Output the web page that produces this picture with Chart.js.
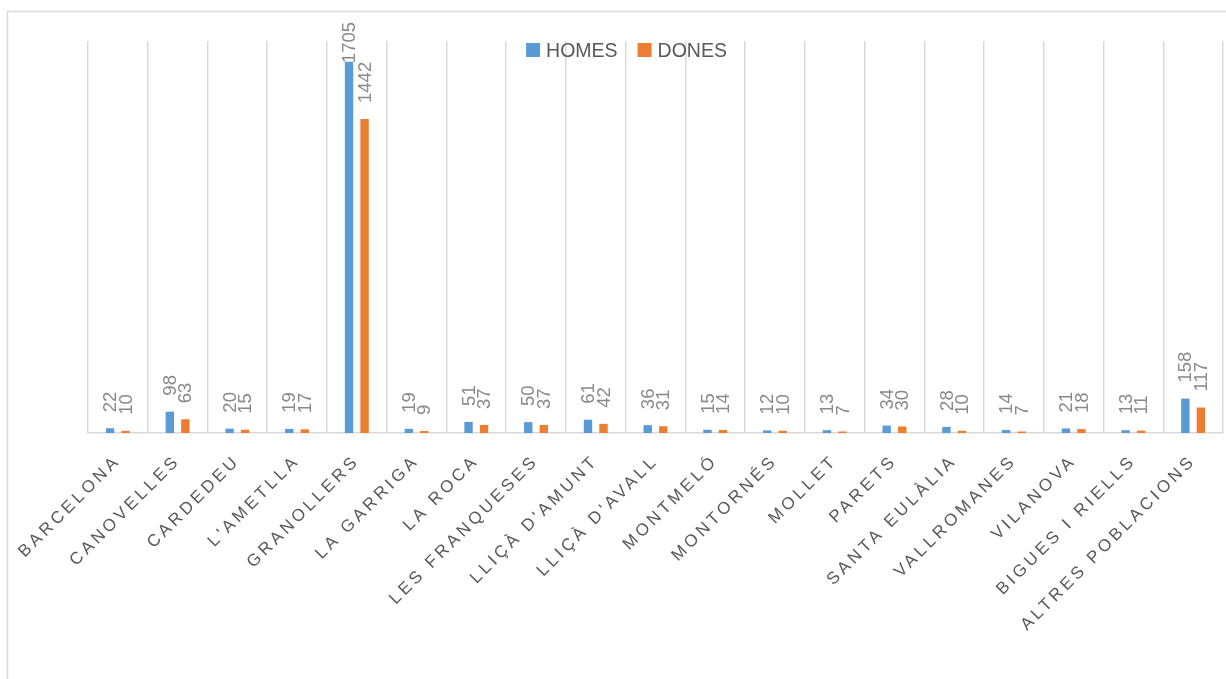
<!DOCTYPE html>
<html>
<head>
<meta charset="utf-8">
<script src="https://cdn.jsdelivr.net/npm/chart.js@4/dist/chart.umd.min.js"></script>
<style>
  body { margin: 0; background: #fff; }
  #wrap { width: 1226px; height: 679px; }
</style>
</head>
<body>
<div id="wrap"><canvas id="chart" width="1226" height="679"></canvas></div>
<script>
// Categories and values
const towns = ['BARCELONA', 'CANOVELLES', 'CARDEDEU', "L'AMETLLA", 'GRANOLLERS', 'LA GARRIGA', 'LA ROCA',
    'LES FRANQUESES', "LLIÇÀ D'AMUNT", "LLIÇÀ D'AVALL", 'MONTMELÓ', 'MONTORNÉS', 'MOLLET', 'PARETS',
    'SANTA EULÀLIA', 'VALLROMANES', 'VILANOVA', 'BIGUES I RIELLS', 'ALTRES POBLACIONS'];
const homes = [22, 98, 20, 19, 1705, 19, 51, 50, 61, 36, 15, 12, 13, 34, 28, 14, 21, 13, 158];
const dones = [10, 63, 15, 17, 1442, 9, 37, 37, 42, 31, 14, 10, 7, 30, 10, 7, 18, 11, 117];

const BLUE = '#5B9BD5';
const ORANGE = '#ED7D31';
const GRID = '#d9d9d9';
const TEXT = '#595959';
const LABEL = '#898989';

// Outer frame + letter spacing for category labels
const framePlugin = {
    id: 'frame',
    beforeDraw(chart) {
        const ctx = chart.ctx;
        ctx.save();
        ctx.strokeStyle = GRID;
        ctx.lineWidth = 1.5;
        ctx.beginPath();
        ctx.moveTo(7.5, 679);
        ctx.lineTo(7.5, 11.5);
        ctx.lineTo(1226, 11.5);
        ctx.stroke();
        ctx.restore();
        ctx.letterSpacing = '3.5px';
    },
    beforeDatasetsDraw(chart) {
        chart.ctx.letterSpacing = '0px';
    }
};

// Rotated value labels above bars
const valueLabels = {
    id: 'valueLabels',
    afterDatasetsDraw(chart) {
        const ctx = chart.ctx;
        ctx.save();
        ctx.letterSpacing = '0px';
        ctx.font = '18.5px "Liberation Sans", Arial, sans-serif';
        ctx.fillStyle = LABEL;
        ctx.textAlign = 'left';
        ctx.textBaseline = 'middle';
        chart.data.datasets.forEach((ds, i) => {
            const meta = chart.getDatasetMeta(i);
            meta.data.forEach((bar, j) => {
                const txt = String(ds.data[j]);
                const w = ctx.measureText(txt).width;
                let start = bar.y - 16;
                if (start - w < 22) start = 22 + w;
                ctx.save();
                ctx.translate(bar.x + 1, start);
                ctx.rotate(-Math.PI / 2);
                ctx.fillText(txt, 0, 0);
                ctx.restore();
            });
        });
        ctx.restore();
    }
};

// Legend drawn inside the plot area, like the original
const insideLegend = {
    id: 'insideLegend',
    afterDraw(chart) {
        const ctx = chart.ctx;
        ctx.save();
        ctx.letterSpacing = '0px';
        ctx.font = '19.5px "Liberation Sans", Arial, sans-serif';
        ctx.textBaseline = 'alphabetic';
        ctx.textAlign = 'left';
        const items = chart.data.datasets.map(ds => ({
            label: ds.label, color: ds.backgroundColor, w: ctx.measureText(ds.label).width
        }));
        const box = 14, gap = 6, between = 20;
        const total = items.reduce((s, it) => s + box + gap + it.w, 0) + between * (items.length - 1);
        let x = 626.5 - total / 2;
        items.forEach(it => {
            ctx.fillStyle = it.color;
            ctx.fillRect(x, 43, box, box);
            ctx.fillStyle = TEXT;
            ctx.fillText(it.label, x + box + gap, 57);
            x += box + gap + it.w + between;
        });
        ctx.restore();
    }
};

const ctx = document.getElementById('chart').getContext('2d');
const chart = new Chart(ctx, {
    type: 'bar',
    data: {
        labels: towns,
        datasets: [{
            label: 'HOMES',
            data: homes,
            backgroundColor: BLUE,
            categoryPercentage: 0.52,
            barPercentage: 0.54
        }, {
            label: 'DONES',
            data: dones,
            backgroundColor: ORANGE,
            categoryPercentage: 0.52,
            barPercentage: 0.54
        }]
    },
    options: {
        responsive: false,
        animation: false,
        devicePixelRatio: 1,
        layout: {
            padding: { top: 41, left: 88, right: 3, bottom: 0 }
        },
        scales: {
            x: {
                grid: {
                    display: true,
                    offset: true,
                    color: GRID,
                    lineWidth: 1.5,
                    drawTicks: false
                },
                border: { display: true, color: GRID, width: 1.5 },
                ticks: {
                    autoSkip: false,
                    minRotation: 45,
                    maxRotation: 45,
                    padding: 18,
                    color: TEXT,
                    font: { family: '"Liberation Sans", Arial, sans-serif', size: 17 }
                },
                afterFit: function(scale) {
                    scale.height = 246;
                }
            },
            y: {
                display: false,
                min: 0,
                max: 1800
            }
        },
        plugins: {
            legend: { display: false },
            tooltip: { enabled: false }
        }
    },
    plugins: [framePlugin, valueLabels, insideLegend]
});
</script>
</body>
</html>
